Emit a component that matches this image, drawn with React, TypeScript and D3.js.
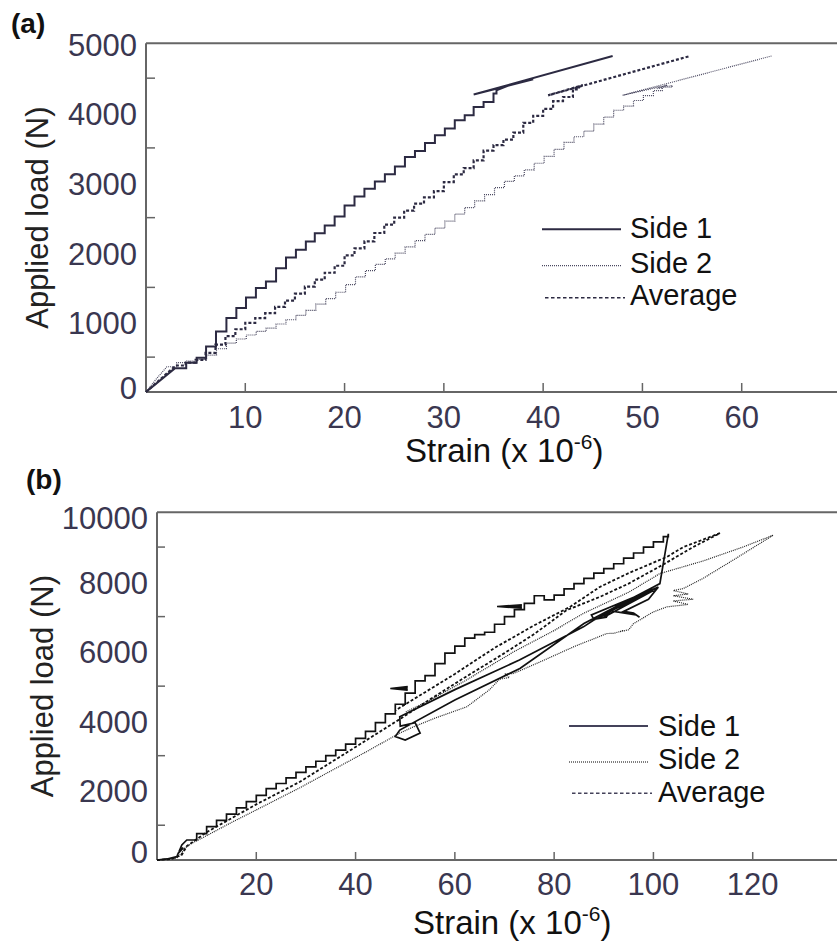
import React from 'react';
import * as d3 from 'd3';

const FONT = "'Liberation Sans', Arial, Helvetica, sans-serif";
const TICK_COLOR = '#3a3750';
const AXIS_COLOR = '#666666';

// ---------------- Panel (a) ----------------
const aXTicks = [10, 20, 30, 40, 50, 60];
const aYLabels = [0, 1000, 2000, 3000, 4000, 5000];
const aYMinor = [500, 1500, 2500, 3500, 4500];

// Side 1 (a)
const aS1RampStrain = [0, 2.9];
const aS1RampLoad = [0, 339];
const aS1StepStrain = [2.9, 4.05, 5.1, 6.05, 7.05, 8.1, 9.1, 10.07, 11.07, 12.08, 13.1, 14.1, 15.1, 16.1, 17.0, 18.0, 19.0, 20.0, 21.0, 22.0, 23.05, 24.06, 25.07, 26.08, 27.09, 28.1, 29.1, 30.1, 31.1, 32.1, 33.0, 34.0, 35.0, 35.3];
const aS1StepLoad = [339, 418, 490, 652, 869, 1060, 1203, 1356, 1490, 1585, 1776, 1929, 2039, 2159, 2278, 2388, 2517, 2674, 2803, 2913, 3018, 3123, 3233, 3371, 3457, 3572, 3682, 3778, 3897, 3968, 4088, 4159, 4279, 4327];
const aS1TailStrain = [35.3, 37.0, 39.0, 33.0, 47.0];
const aS1TailLoad = [4327, 4420, 4484, 4265, 4818];

// Side 2 (a)
const aS2RampStrain = [0, 1.0, 2.1];
const aS2RampLoad = [0, 180, 362];
const aS2StepStrain = [2.1, 3.1, 4.1, 5.1, 6.1, 7.1, 8.1, 9.1, 10.1, 11.1, 12.1, 13.1, 14.1, 15.1, 16.1, 17.1, 18.1, 19.1, 20.1, 21.1, 22.1, 23.1, 24.1, 25.1, 26.1, 27.1, 28.1, 29.1, 30.1, 31.1, 32.1, 33.1, 34.1, 35.1, 36.1, 37.1, 38.1, 39.1, 40.1, 41.1, 42.1, 43.1, 44.1, 45.1, 46.1, 47.1, 48.1, 49.1, 50.1, 51.1, 52.0, 53.0];
const aS2StepLoad = [362, 420, 444, 468, 530, 620, 700, 760, 817, 870, 917, 975, 1036, 1100, 1170, 1260, 1340, 1430, 1540, 1650, 1740, 1830, 1910, 1990, 2080, 2170, 2260, 2350, 2450, 2550, 2645, 2740, 2830, 2930, 3020, 3100, 3185, 3280, 3380, 3480, 3580, 3660, 3740, 3840, 3940, 4040, 4100, 4180, 4250, 4320, 4370, 4395];
const aS2TailStrain = [53.0, 51.5, 52.5, 51.3, 48.0, 63.0];
const aS2TailLoad = [4395, 4350, 4400, 4360, 4255, 4818];

// Average (a)
const aAvRampStrain = [0, 3.0];
const aAvRampLoad = [0, 380];
const aAvStepStrain = [3, 4, 5, 6, 7, 8, 9, 10, 11, 12, 13, 14, 15, 16, 17, 18, 19, 20, 21, 22, 23, 24, 25, 26, 27, 28, 29, 30, 31, 32, 33, 34, 35, 36, 37, 38, 39, 40, 41, 42, 43, 43.6];
const aAvStepLoad = [380, 420, 460, 560, 680, 800, 900, 990, 1060, 1130, 1220, 1310, 1410, 1510, 1610, 1710, 1810, 1960, 2060, 2160, 2280, 2400, 2500, 2600, 2700, 2790, 2880, 3010, 3120, 3210, 3320, 3460, 3540, 3620, 3720, 3860, 3960, 4060, 4170, 4230, 4340, 4380];
const aAvTailStrain = [43.6, 44.0, 40.5, 54.8];
const aAvTailLoad = [4380, 4400, 4254, 4818];

// ---------------- Panel (b) ----------------
const bXTicks = [20, 40, 60, 80, 100, 120];
const bYLabels = [0, 2000, 4000, 6000, 8000, 10000];
const bYMinor = [1000, 3000, 5000, 7000, 9000];

// Side 1 (b)
const bS1StartStrain = [0, 2, 4, 4.3, 5.3, 4.6, 5.0, 6.0];
const bS1StartLoad = [0, 30, 96, 200, 350, 300, 431, 575];
const bS1StepStrain = [6, 8, 10, 12, 14, 16, 18, 20, 22, 24, 26, 28, 30, 32, 34, 36, 38, 40, 42, 44, 46, 48, 50, 52, 54, 56, 58, 60, 62, 64, 66, 68, 70, 72, 74, 76, 78, 80, 82, 84, 86, 88, 90, 92, 94, 96, 98, 100, 102, 103];
const bS1StepLoad = [575, 760, 958, 1140, 1320, 1500, 1680, 1860, 2050, 2200, 2360, 2520, 2680, 2840, 3000, 3160, 3330, 3500, 3700, 3950, 4200, 4480, 4800, 5150, 5300, 5650, 5950, 6150, 6380, 6480, 6550, 6780, 7000, 7200, 7380, 7600, 7480, 7620, 7800, 7950, 8100, 8250, 8380, 8520, 8680, 8830, 9000, 9150, 9300, 9380];
const bS1UnloadStrain = [103, 101.3, 100, 86, 73.1, 60, 48.9, 48, 50, 53, 52, 49, 48.9, 60, 73, 85.9, 88, 91, 90.5, 88, 87.5, 101, 89, 100, 90, 92, 96.5, 97.2, 96, 94, 99, 101, 100];
const bS1UnloadLoad = [9380, 7950, 7854, 6800, 5508, 4600, 3736, 3550, 3450, 3650, 3950, 3850, 4119, 4900, 5750, 6705, 6900, 7100, 6980, 6920, 7050, 7850, 7000, 7750, 6980, 7150, 7050, 6980, 7100, 7150, 7500, 7850, 7700];
const bS1Spike1Strain = [50.5, 47.0, 50.5];
const bS1Spike1Load = [4880, 4930, 4990];
const bS1Spike2Strain = [73.5, 68.5, 73.5];
const bS1Spike2Load = [7240, 7290, 7340];

// Side 2 (b)
const bS2Strain = [0, 2, 4, 5, 5.5, 7, 10, 15, 20, 28.8, 35, 42, 48.9, 52, 56, 62.4, 67, 69, 71, 70, 71.8, 78, 83.9, 90.6, 92, 94, 93, 95, 96, 100, 102.7, 107, 104, 108, 104, 107, 104, 106, 110, 116, 124.1, 118, 110, 101.3, 95, 86, 80, 72, 62, 55, 50];
const bS2Load = [0, 20, 60, 200, 330, 480, 700, 1080, 1440, 2080, 2560, 3100, 3650, 3850, 4080, 4406, 4900, 5200, 5250, 5350, 5364, 5750, 6130, 6513, 6520, 6600, 6560, 6620, 6800, 7136, 7280, 7350, 7450, 7500, 7600, 7650, 7750, 7806, 8100, 8621, 9339, 9000, 8600, 8238, 7700, 7100, 6600, 6000, 5150, 4600, 4250];

// Average (b)
const bAvLoadStrain = [0, 3, 5, 6, 10, 20, 28.8, 40, 48.9, 55, 62, 70, 76, 82.5, 89.2, 95, 102, 108, 113.4];
const bAvLoadLoad = [0, 30, 150, 400, 800, 1600, 2250, 3250, 4050, 4620, 5250, 5950, 6500, 7184, 7567, 7950, 8500, 9000, 9400];
const bAvUnloadStrain = [113.4, 106, 102.7, 95, 89.2, 83.2, 76, 68, 60, 52, 48];
const bAvUnloadLoad = [9400, 9000, 8716, 8250, 7854, 7280, 6750, 6100, 5350, 4650, 4300];

type Pt = [number, number];
const zip = (xs: number[], ys: number[]): Pt[] => xs.map((x, i) => [x, ys[i]] as Pt);
const stairs = (xs: number[], ys: number[]): Pt[] => {
  const out: Pt[] = [];
  for (let i = 0; i < xs.length; i++) {
    out.push([xs[i], ys[i]]);
    if (i < xs.length - 1) out.push([xs[i + 1], ys[i]]);
  }
  return out;
};

type PanelProps = {
  x: d3.ScaleLinear<number, number>;
  y: d3.ScaleLinear<number, number>;
  xTicks: number[];
  yLabels: number[];
  yMinor: number[];
  xLabelBaseline: number;
  yLabelRight: number;
  yAdjTop: number;
  yAdjBottom: number;
  yTitleX: number;
  xTitleX: number;
  xTitleBaseline: number;
  panelLabel: string;
  panelLabelX: number;
  panelLabelY: number;
  tickLen: number;
};

function Axes(p: PanelProps) {
  const [x0] = p.x.range();
  const [yb, yt] = p.y.range();
  const yMax = p.y.domain()[1];
  const yc = (yb + yt) / 2;
  return (
    <g>
      <line x1={x0} x2={837} y1={yt} y2={yt} stroke={AXIS_COLOR} strokeWidth={2} />
      <line x1={x0} x2={837} y1={yb} y2={yb} stroke={AXIS_COLOR} strokeWidth={2} />
      <line x1={x0} x2={x0} y1={yt} y2={yb} stroke={AXIS_COLOR} strokeWidth={2} />
      {p.xTicks.map((t) => (
        <g key={'xt' + t}>
          <line x1={p.x(t)} x2={p.x(t)} y1={yb} y2={yb - p.tickLen} stroke={AXIS_COLOR} strokeWidth={1.5} />
          <text x={p.x(t)} y={p.xLabelBaseline} textAnchor="middle" fontSize={31} fill={TICK_COLOR} fontFamily={FONT}>{t}</text>
        </g>
      ))}
      {p.yMinor.map((t) => (
        <line key={'ym' + t} x1={x0} x2={x0 + p.tickLen} y1={p.y(t)} y2={p.y(t)} stroke={AXIS_COLOR} strokeWidth={1.5} />
      ))}
      {p.yLabels.map((t) => {
        const adj = t === yMax ? p.yAdjTop : t === 0 ? p.yAdjBottom : 1;
        return (
          <text key={'yl' + t} x={p.yLabelRight} y={p.y(t) + 11 + adj} textAnchor="end" fontSize={31} fill={TICK_COLOR} fontFamily={FONT}>{t}</text>
        );
      })}
      <text transform={`translate(${p.yTitleX},${yc}) rotate(-90)`} textAnchor="middle" fontSize={31} fill="#222" fontFamily={FONT}>Applied load (N)</text>
      <text x={p.xTitleX} y={p.xTitleBaseline} fontSize={33} fill="#111" fontFamily={FONT}>
        Strain (x 10<tspan dy={-13} fontSize={21}>-6</tspan><tspan dy={13}>)</tspan>
      </text>
      <text x={p.panelLabelX} y={p.panelLabelY} fontSize={28} fontWeight="bold" fill="#111" fontFamily={FONT}>{p.panelLabel}</text>
    </g>
  );
}

function Legend({ x1, x2, textX, lineYs, baselines, color, s2color }: { x1: number; x2: number; textX: number; lineYs: number[]; baselines: number[]; color: string; s2color: string }) {
  return (
    <g fontFamily={FONT} fontSize={29} fill="#111">
      <line x1={x1} x2={x2} y1={lineYs[0]} y2={lineYs[0]} stroke={color} strokeWidth={2} />
      <text x={textX} y={baselines[0]}>Side 1</text>
      <line x1={x1} x2={x2} y1={lineYs[1]} y2={lineYs[1]} stroke={s2color} strokeWidth={1.3} strokeDasharray="1,1" />
      <text x={textX} y={baselines[1]}>Side 2</text>
      <line x1={x1 + 3} x2={x2 + 4} y1={lineYs[2]} y2={lineYs[2]} stroke={color} strokeWidth={1.6} strokeDasharray="3.5,2.5" />
      <text x={textX} y={baselines[2]}>Average</text>
    </g>
  );
}

export default function App() {
  // Panel (a) scales
  const ax = d3.scaleLinear().domain([0, 70]).range([146, 841]);
  const ay = d3.scaleLinear().domain([0, 5000]).range([392, 43.3]);
  const aLine = d3.line<Pt>().x((d) => ax(d[0])).y((d) => ay(d[1])).curve(d3.curveLinear);

  const aSide1 = [...zip(aS1RampStrain, aS1RampLoad), ...stairs(aS1StepStrain, aS1StepLoad), ...zip(aS1TailStrain, aS1TailLoad)];
  const aSide2 = [...zip(aS2RampStrain, aS2RampLoad), ...stairs(aS2StepStrain, aS2StepLoad), ...zip(aS2TailStrain, aS2TailLoad)];
  const aAvg = [...zip(aAvRampStrain, aAvRampLoad), ...stairs(aAvStepStrain, aAvStepLoad), ...zip(aAvTailStrain, aAvTailLoad)];

  // Panel (b) scales
  const bx = d3.scaleLinear().domain([0, 140]).range([157, 852]);
  const by = d3.scaleLinear().domain([0, 10000]).range([860, 512.3]);
  const bLine = d3.line<Pt>().x((d) => bx(d[0])).y((d) => by(d[1])).curve(d3.curveLinear);

  const bSide1 = [...zip(bS1StartStrain, bS1StartLoad), ...stairs(bS1StepStrain, bS1StepLoad), ...zip(bS1UnloadStrain, bS1UnloadLoad)];
  const bSpike1 = zip(bS1Spike1Strain, bS1Spike1Load);
  const bSpike2 = zip(bS1Spike2Strain, bS1Spike2Load);
  const bSide2 = zip(bS2Strain, bS2Load);
  const bAvg = [...zip(bAvLoadStrain, bAvLoadLoad), ...zip(bAvUnloadStrain, bAvUnloadLoad)];

  const navy = '#2c2a42';

  return (
    <svg width={837} height={942} style={{ position: 'absolute', left: 0, top: 0, background: '#fff' }}>
      <rect x={0} y={0} width={837} height={942} fill="#fff" />
      <Axes x={ax} y={ay} xTicks={aXTicks} yLabels={aYLabels} yMinor={aYMinor}
        xLabelBaseline={428} yLabelRight={137} yAdjTop={2} yAdjBottom={-4}
        yTitleX={48} xTitleX={405} xTitleBaseline={462}
        panelLabel="(a)" panelLabelX={11} panelLabelY={33} tickLen={9} />
      <path d={aLine(aSide2) || ''} fill="none" stroke="#4a4860" strokeWidth={1.2} strokeDasharray="1,1" />
      <path d={aLine(aAvg) || ''} fill="none" stroke={navy} strokeWidth={2.2} strokeDasharray="3,2" />
      <path d={aLine(aSide1) || ''} fill="none" stroke={navy} strokeWidth={2} strokeLinejoin="miter" />
      <Legend x1={542} x2={621} textX={630} lineYs={[229.3, 265.7, 297.7]} baselines={[238, 273, 305]} color={navy} s2color="#4a4860" />

      <Axes x={bx} y={by} xTicks={bXTicks} yLabels={bYLabels} yMinor={bYMinor}
        xLabelBaseline={895} yLabelRight={148} yAdjTop={6} yAdjBottom={-8}
        yTitleX={53} xTitleX={413} xTitleBaseline={934}
        panelLabel="(b)" panelLabelX={26} panelLabelY={489} tickLen={8} />
      <path d={bLine(bSide2) || ''} fill="none" stroke="#222" strokeWidth={1.2} strokeDasharray="1,1" />
      <path d={bLine(bAvg) || ''} fill="none" stroke="#111" strokeWidth={1.8} strokeDasharray="3,2" />
      <path d={bLine(bSide1) || ''} fill="none" stroke="#111" strokeWidth={1.7} />
      <path d={bLine(bSpike1) || ''} fill="#111" stroke="#111" strokeWidth={1.5} />
      <path d={bLine(bSpike2) || ''} fill="#111" stroke="#111" strokeWidth={1.5} />
      <Legend x1={569} x2={648} textX={658} lineYs={[726, 762, 793.3]} baselines={[736, 769, 802]} color="#44425a" s2color="#555" />
    </svg>
  );
}
